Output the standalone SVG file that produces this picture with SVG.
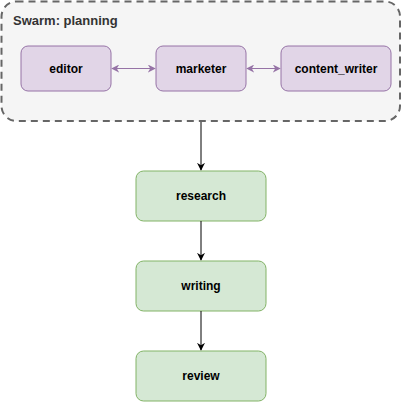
<svg xmlns="http://www.w3.org/2000/svg" width="402" height="402" viewBox="0 0 402 402">
<style>
text{font-family:"Liberation Sans",Arial,Helvetica,sans-serif;font-weight:bold;font-size:12px;text-anchor:middle;dominant-baseline:central;fill:#000}
.p{fill:#e1d5e7;stroke:#9673a6;stroke-width:1}
.g{fill:#d5e8d4;stroke:#82b366;stroke-width:1}
.k{stroke:#000;stroke-width:1;fill:none}
.v{stroke:#9673a6;stroke-width:1.2;fill:none}
</style>
<defs>
<marker id="ak" viewBox="0 0 10 10" refX="9" refY="5" markerWidth="8" markerHeight="8" markerUnits="userSpaceOnUse" orient="auto"><path d="M0,0 L10,5 L0,10 L3,5 Z" fill="#000"/></marker>
<marker id="ap" viewBox="0 0 10 10" refX="9" refY="5" markerWidth="8" markerHeight="8" markerUnits="userSpaceOnUse" orient="auto-start-reverse"><path d="M0,0 L10,5 L0,10 L3,5 Z" fill="#9673a6"/></marker>
</defs>
<g id="swarm">
<rect x="1.5" y="1.5" width="398.5" height="119.5" rx="15" fill="#f5f5f5" stroke="#666" stroke-width="2" stroke-dasharray="7 5"/>
<text x="13" y="20" style="text-anchor:start;font-size:13px;fill:#333">Swarm: planning</text>
</g>
<g id="editor"><rect class="p" x="21" y="46" width="90" height="45" rx="7"/><text x="66" y="68.5">editor</text></g>
<g id="marketer"><rect class="p" x="156" y="46" width="90" height="45" rx="7"/><text x="201" y="68.5">marketer</text></g>
<g id="content_writer"><rect class="p" x="281" y="46" width="110" height="45" rx="7"/><text x="336" y="68.5">content_writer</text></g>
<g id="research"><rect class="g" x="136" y="171" width="130" height="50" rx="7.5"/><text x="201" y="196">research</text></g>
<g id="writing"><rect class="g" x="136" y="261" width="130" height="50" rx="7.5"/><text x="201" y="286">writing</text></g>
<g id="review"><rect class="g" x="136" y="351" width="130" height="50" rx="7.5"/><text x="201" y="376">review</text></g>
<g id="connectors">
<line class="v" x1="112" y1="68.5" x2="155" y2="68.5" marker-start="url(#ap)" marker-end="url(#ap)"/>
<line class="v" x1="247" y1="68.5" x2="280" y2="68.5" marker-start="url(#ap)" marker-end="url(#ap)"/>
<line class="k" x1="201" y1="122" x2="201" y2="170" marker-end="url(#ak)"/>
<line class="k" x1="201" y1="221" x2="201" y2="260" marker-end="url(#ak)"/>
<line class="k" x1="201" y1="311" x2="201" y2="350" marker-end="url(#ak)"/>
</g>
</svg>
